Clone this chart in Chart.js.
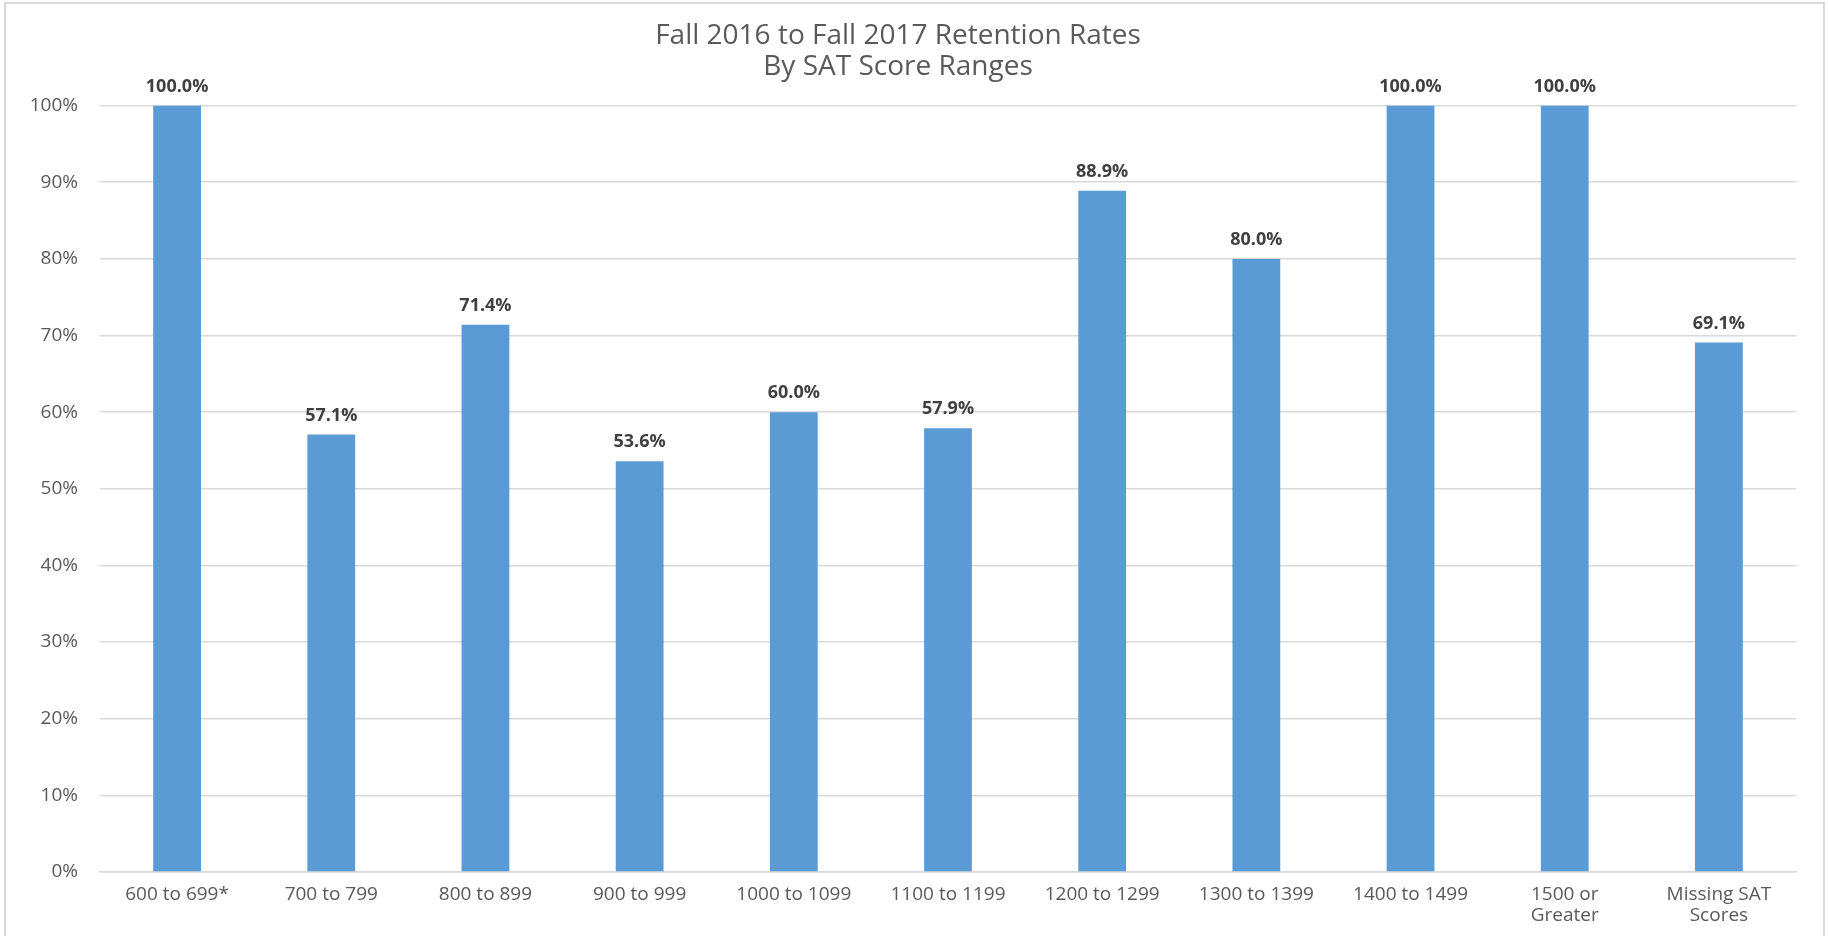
<!DOCTYPE html>
<html>
<head>
<meta charset="utf-8">
<script src="https://cdn.jsdelivr.net/npm/chart.js@4/dist/chart.umd.min.js"></script>
<style>
  html, body { margin: 0; padding: 0; background: #fff; }
  #wrap { width: 1829px; height: 936px; }
</style>
</head>
<body>
<div id="wrap"><canvas id="myChart" width="1829" height="936"></canvas></div>
<script>
var categories = ["600 to 699*", "700 to 799", "800 to 899", "900 to 999", "1000 to 1099",
    "1100 to 1199", "1200 to 1299", "1300 to 1399", "1400 to 1499",
    ["1500 or", "Greater"], ["Missing SAT", "Scores"]];
var retention = [100.0, 57.1, 71.4, 53.6, 60.0, 57.9, 88.9, 80.0, 100.0, 100.0, 69.1];
var yTicks = [0, 10, 20, 30, 40, 50, 60, 70, 80, 90, 100];

var fontName = "'Open Sans', sans-serif";

// value labels above each bar
var barLabels = {
    id: 'barLabels',
    afterDatasetsDraw: function(chart) {
        var ctx = chart.ctx;
        var meta = chart.getDatasetMeta(0);
        ctx.save();
        ctx.font = "bold 18px " + fontName;
        ctx.fillStyle = '#404040';
        ctx.textAlign = 'center';
        ctx.textBaseline = 'middle';
        meta.data.forEach(function(bar, i) {
            ctx.fillText(retention[i].toFixed(1) + '%', bar.x, bar.y - 19);
        });
        ctx.restore();
    }
};

// thin frame round the chart like the Excel chart area
var frame = {
    id: 'frame',
    beforeDraw: function(chart) {
        var ctx = chart.ctx;
        ctx.save();
        ctx.strokeStyle = '#d9d9d9';
        ctx.lineWidth = 2;
        ctx.strokeRect(5, 3, 1819, 950);
        ctx.restore();
    }
};

var ctx = document.getElementById("myChart").getContext('2d');
var myChart = new Chart(ctx, {
    type: 'bar',
    data: {
        labels: categories,
        datasets: [{
            data: retention,
            backgroundColor: '#5b9bd5',
            borderWidth: 0,
            barPercentage: 0.31,
            categoryPercentage: 1.0
        }]
    },
    options: {
        responsive: false,
        animation: false,
        layout: { padding: { left: 0, right: 33, top: 0, bottom: 0 } },
        plugins: {
            legend: { display: false },
            tooltip: { enabled: false },
            title: {
                display: true,
                text: ["Fall 2016 to Fall 2017 Retention Rates", "By SAT Score Ranges"],
                color: '#595959',
                font: { family: fontName, size: 28, weight: 'normal', lineHeight: 1.1 },
                padding: { top: 21, bottom: 23 }
            }
        },
        scales: {
            x: {
                grid: { display: false, drawTicks: false },
                border: { display: true, color: '#d9d9d9', width: 1.5 },
                ticks: {
                    color: '#595959',
                    font: { family: fontName, size: 19, lineHeight: 1.1 },
                    padding: 12,
                    maxRotation: 0,
                    autoSkip: false
                },
                afterFit: function(scale) { scale.height = 64; }
            },
            y: {
                min: 0,
                max: 100,
                afterBuildTicks: function(scale) {
                    scale.ticks = yTicks.map(function(v) { return { value: v }; });
                },
                grid: { color: '#d9d9d9', lineWidth: 1.5, drawTicks: false },
                border: { display: false },
                ticks: {
                    color: '#595959',
                    font: { family: fontName, size: 19 },
                    padding: 22,
                    callback: function(v) { return v + '%'; }
                },
                afterFit: function(scale) { scale.width = 100; }
            }
        }
    },
    plugins: [barLabels, frame]
});
</script>
</body>
</html>
